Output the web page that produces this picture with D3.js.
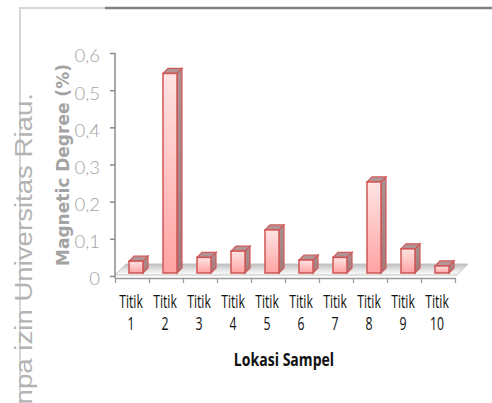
<!DOCTYPE html>
<html>
<head>
<meta charset="utf-8">
<script src="https://cdn.jsdelivr.net/npm/d3@7/dist/d3.min.js"></script>
<style>
  html, body { margin: 0; padding: 0; background: #fff; }
  svg { display: block; }
</style>
</head>
<body>
<svg id="chart" width="492" height="403"></svg>
<script>
// Magnetic degree per sampling point
const categories = ["1", "2", "3", "4", "5", "6", "7", "8", "9", "10"];
const categoryPrefix = "Titik";
const values = [0.040, 0.545, 0.050, 0.067, 0.124, 0.043, 0.050, 0.253, 0.073, 0.027];
const yTicks = [0, 0.1, 0.2, 0.3, 0.4, 0.5, 0.6];
const yTitle = "Magnetic Degree (%)";
const xTitle = "Lokasi Sampel";
const watermark = "tanpa izin Universitas Riau.";

const svg = d3.select("#chart");
const defs = svg.append("defs");

const plotLeft = 115, plotRight = 455, plotBase = 276, plotTop = 53;
const depth = 11;      // floor depth offset
const barDepth = 5;    // column depth offset
const barW = 14;

const x = d3.scaleBand().domain(categories).range([plotLeft, plotRight]).padding(0);
const xEdge = d3.scaleLinear().domain([0, categories.length]).range([plotLeft, plotRight]);
const y = d3.scaleLinear().domain([0, 0.6]).range([plotBase, plotTop]);

// gradients
const gFront = defs.append("linearGradient").attr("id", "front").attr("x1", 0).attr("y1", 0).attr("x2", 0).attr("y2", 1);
gFront.append("stop").attr("offset", "0%").attr("stop-color", "#ffe4e4");
gFront.append("stop").attr("offset", "100%").attr("stop-color", "#ffa3a3");
const gSide = defs.append("linearGradient").attr("id", "side").attr("x1", 0).attr("y1", 0).attr("x2", 0).attr("y2", 1);
gSide.append("stop").attr("offset", "0%").attr("stop-color", "#a99292");
gSide.append("stop").attr("offset", "100%").attr("stop-color", "#a47a7a");
const gFloor = defs.append("linearGradient").attr("id", "floor").attr("x1", 0).attr("y1", 0).attr("x2", 0).attr("y2", 1);
gFloor.append("stop").attr("offset", "0%").attr("stop-color", "#bdbdbd");
gFloor.append("stop").attr("offset", "55%").attr("stop-color", "#e6e6e6");
gFloor.append("stop").attr("offset", "100%").attr("stop-color", "#fbfbfb");

// page frame lines
svg.append("line").attr("x1", 20).attr("x2", 20).attr("y1", 7).attr("y2", 403)
  .attr("stroke", "#d6d6d6").attr("stroke-width", 2);
svg.append("line").attr("x1", 20).attr("x2", 105).attr("y1", 8).attr("y2", 8)
  .attr("stroke", "#d6d6d6").attr("stroke-width", 2);
svg.append("line").attr("x1", 105).attr("x2", 492).attr("y1", 8).attr("y2", 8)
  .attr("stroke", "#828282").attr("stroke-width", 2.4);

// vertical watermark running off the bottom edge
svg.append("text")
  .attr("transform", "translate(32,93) rotate(-90) scale(1.15,1)")
  .attr("text-anchor", "end")
  .attr("font-family", "Liberation Sans, Arial, sans-serif")
  .attr("font-size", 24)
  .attr("fill", "#b4b4b4")
  .text(watermark);

// floor
const fy = plotBase - 1;
svg.append("path")
  .attr("d", `M${plotLeft},${fy} L${plotRight + 2},${fy} L${plotRight + 2 + depth},${fy - depth} L${plotLeft + depth},${fy - depth} Z`)
  .attr("fill", "url(#floor)").attr("stroke", "#c4c4c4").attr("stroke-width", 1);

// value axis
const yAxis = d3.axisLeft(y)
  .tickValues(yTicks)
  .tickSize(5)
  .tickSizeOuter(0)
  .tickPadding(10)
  .tickFormat(d => d === 0 ? "0" : d3.format(".1f")(d).replace(".", ","));
const gy = svg.append("g").attr("transform", `translate(${plotLeft},0)`).call(yAxis);
gy.select(".domain").attr("stroke", "#8a8a8a").attr("stroke-width", 1.5)
  .attr("d", `M0,${plotTop}V${plotBase + 2}`);
gy.selectAll(".tick line").attr("stroke", "#8a8a8a").attr("stroke-width", 1.5);
gy.selectAll(".tick text")
  .attr("font-family", "Lato, 'Open Sans', sans-serif")
  .attr("font-size", 18.5)
  .attr("font-weight", 300)
  .attr("fill", "#a3a3a3")
  .attr("dy", "0.48em");

// category axis with ticks between categories
const xAxis = d3.axisBottom(xEdge)
  .tickValues(d3.range(0, categories.length + 1))
  .tickSize(5)
  .tickSizeOuter(0)
  .tickFormat("");
const gx = svg.append("g").attr("transform", `translate(0,${plotBase + 2})`).call(xAxis);
gx.select(".domain").attr("stroke", "#9a9a9a").attr("stroke-width", 1.5);
gx.selectAll(".tick line").attr("stroke", "#9a9a9a").attr("stroke-width", 1.2);

// columns
const bars = svg.append("g").selectAll("g").data(values).join("g");
bars.each(function (v, i) {
  const g = d3.select(this);
  const cx = x(categories[i]) + x.bandwidth() / 2;
  const x0 = cx - 3;
  const x1 = x0 + barW;
  const yT = y(v);
  const yB = plotBase - 3;
  const d = barDepth;
  g.append("path")
    .attr("d", `M${x1},${yT} L${x1 + d},${yT - d} L${x1 + d},${yB - d} L${x1},${yB} Z`)
    .attr("fill", "url(#side)").attr("stroke", "#cf5a5a").attr("stroke-width", 1.2);
  g.append("path")
    .attr("d", `M${x0},${yT} L${x0 + d},${yT - d} L${x1 + d},${yT - d} L${x1},${yT} Z`)
    .attr("fill", "#b39494").attr("stroke", "#cf5a5a").attr("stroke-width", 1.2);
  g.append("rect")
    .attr("x", x0).attr("y", yT).attr("width", barW).attr("height", yB - yT)
    .attr("fill", "url(#front)").attr("stroke", "#d05555").attr("stroke-width", 1.5);
});

// category labels (two lines, condensed)
const labelGroups = svg.append("g").selectAll("g").data(categories).join("g")
  .attr("transform", c => `translate(${x(c) + x.bandwidth() / 2 - 1},0) scale(0.7,1)`);
labelGroups.append("text").attr("y", 308).text(categoryPrefix);
labelGroups.append("text").attr("y", 330).text(c => c);
labelGroups.selectAll("text")
  .attr("text-anchor", "middle")
  .attr("font-family", "'Open Sans', sans-serif")
  .attr("font-size", 17.5)
  .attr("fill", "#111");

// axis titles
svg.append("text")
  .attr("transform", "translate(284,366) scale(0.76,1)")
  .attr("text-anchor", "middle")
  .attr("font-family", "'Open Sans', sans-serif")
  .attr("font-weight", 700)
  .attr("font-size", 18.5)
  .attr("fill", "#111")
  .text(xTitle);

svg.append("text")
  .attr("transform", "translate(69,165) rotate(-90)")
  .attr("text-anchor", "middle")
  .attr("font-family", "'DejaVu Sans', sans-serif")
  .attr("font-weight", 700)
  .attr("font-size", 17)
  .attr("fill", "#a3a3a3")
  .text(yTitle);
</script>
</body>
</html>
